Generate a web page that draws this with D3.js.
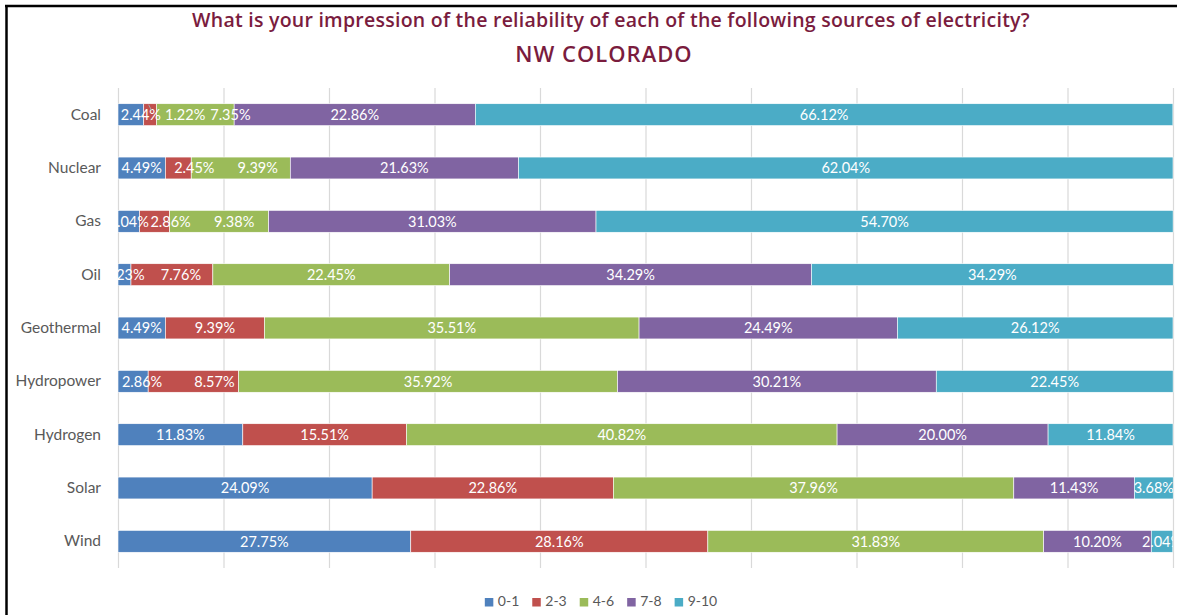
<!DOCTYPE html>
<html>
<head>
<meta charset="utf-8">
<script src="https://cdn.jsdelivr.net/npm/d3@7"></script>
<style>
  html, body { margin: 0; padding: 0; background: #fff; }
  svg { display: block; }
</style>
</head>
<body>
<svg></svg>
<script>
// Chart data
const categories = ["Coal", "Nuclear", "Gas", "Oil", "Geothermal", "Hydropower", "Hydrogen", "Solar", "Wind"];
const seriesNames = ["0-1", "2-3", "4-6", "7-8", "9-10"];
const r01  = [2.44, 4.49, 2.04, 1.23, 4.49, 2.86, 11.83, 24.09, 27.75];
const r23  = [1.22, 2.45, 2.86, 7.76, 9.39, 8.57, 15.51, 22.86, 28.16];
const r46  = [7.35, 9.39, 9.38, 22.45, 35.51, 35.92, 40.82, 37.96, 31.83];
const r78  = [22.86, 21.63, 31.03, 34.29, 24.49, 30.21, 20.00, 11.43, 10.20];
const r910 = [66.12, 62.04, 54.70, 34.29, 26.12, 22.45, 11.84, 3.68, 2.04];
const xTicks = [0, 10, 20, 30, 40, 50, 60, 70, 80, 90, 100];

const colors = ["#4F81BD", "#C0504D", "#9BBB59", "#8064A2", "#4BACC6"];

// a few labels were dragged sideways by hand in the original (pixels)
const labelNudge = {
  "Coal|0-1": 10, "Coal|2-3": 35, "Coal|4-6": 35,
  "Nuclear|2-3": 16, "Nuclear|4-6": 17,
  "Gas|2-3": 16, "Gas|4-6": 15,
  "Oil|2-3": 9,
  "Hydropower|0-1": 9, "Hydropower|2-3": 21
};

const width = 1177, height = 615;
const svg = d3.select("svg").attr("width", width).attr("height", height);

const plot = { left: 118, right: 1173, top: 88, bottom: 568 };

// build rows for the stack
const columns = [r01, r23, r46, r78, r910];
const rows = categories.map((c, i) => {
  const row = { category: c };
  seriesNames.forEach((s, j) => row[s] = columns[j][i]);
  return row;
});
const stacked = d3.stack().keys(seriesNames)(rows);

const x = d3.scaleLinear().domain([0, 100]).range([plot.left, plot.right]);
const y = d3.scaleBand().domain(categories)
  .range([plot.top, plot.bottom])
  .paddingInner(0.59).paddingOuter(0.295);
const color = d3.scaleOrdinal().domain(seriesNames).range(colors);

// frame lines (top and left)
svg.append("line").attr("x1", 5).attr("x2", width).attr("y1", 6).attr("y2", 6)
  .attr("stroke", "#000").attr("stroke-width", 2.5);
svg.append("line").attr("x1", 6.5).attr("x2", 6.5).attr("y1", 5).attr("y2", height)
  .attr("stroke", "#000").attr("stroke-width", 2.5);

// titles
const titleColor = "#7A1C3E";
svg.append("text").attr("x", 611).attr("y", 27).attr("text-anchor", "middle")
  .attr("font-family", "'Open Sans', Lato, sans-serif").attr("font-weight", 600)
  .attr("font-size", 19.5).attr("letter-spacing", 0.25).attr("fill", titleColor)
  .text("What is your impression of the reliability of each of the following sources of electricity?");
svg.append("text").attr("x", 604).attr("y", 62).attr("text-anchor", "middle")
  .attr("font-family", "'Open Sans', Lato, sans-serif").attr("font-weight", 600)
  .attr("font-size", 22).attr("letter-spacing", 1).attr("fill", titleColor)
  .text("NW COLORADO");

// gridlines
const grid = svg.append("g").attr("transform", `translate(0,${plot.bottom})`)
  .call(d3.axisBottom(x).tickValues(xTicks).tickSize(-(plot.bottom - plot.top)).tickFormat(""));
grid.select(".domain").remove();
grid.selectAll(".tick line").attr("stroke", "#d9d9d9").attr("stroke-width", 1.2);

// category labels
const yAxis = svg.append("g").attr("transform", `translate(${plot.left},0)`)
  .call(d3.axisLeft(y).tickSize(0).tickPadding(17));
yAxis.select(".domain").remove();
yAxis.selectAll("text")
  .attr("font-family", "Lato, 'Open Sans', sans-serif")
  .attr("font-size", 15.5).attr("fill", "#595959");

// bars
const layers = svg.append("g").selectAll("g").data(stacked).join("g")
  .attr("fill", d => color(d.key));
layers.selectAll("rect").data(d => d).join("rect")
  .attr("x", d => x(d[0]))
  .attr("y", d => y(d.data.category))
  .attr("width", d => x(d[1]) - x(d[0]))
  .attr("height", y.bandwidth())
  .attr("stroke", "#fff").attr("stroke-width", 0.6);

// clip labels to the plot area
svg.append("clipPath").attr("id", "plotClip").append("rect")
  .attr("x", plot.left).attr("y", plot.top)
  .attr("width", plot.right - plot.left).attr("height", plot.bottom - plot.top);

const labels = svg.append("g").attr("clip-path", "url(#plotClip)");
stacked.forEach(layer => {
  labels.selectAll(null).data(layer).join("text")
    .attr("x", d => (x(d[0]) + x(d[1])) / 2 + (labelNudge[d.data.category + "|" + layer.key] || 0))
    .attr("y", d => y(d.data.category) + y.bandwidth() / 2)
    .attr("dy", "0.36em")
    .attr("text-anchor", "middle")
    .attr("font-family", "Lato, 'Open Sans', sans-serif")
    .attr("font-size", 14.5).attr("fill", "#fff")
    .text(d => (d[1] - d[0]).toFixed(2) + "%");
});

// small leader line for the coal 2-3 label
const coal = stacked[1][0];
const cx = (x(coal[0]) + x(coal[1])) / 2;
svg.append("line")
  .attr("x1", cx - 1.5).attr("y1", y("Coal") + 1)
  .attr("x2", cx + 1.5).attr("y2", y("Coal") + 7)
  .attr("stroke", "#a6a6a6").attr("stroke-width", 1);

// legend
const legend = svg.append("g");
let lx = 0;
seriesNames.forEach(s => {
  const item = legend.append("g").attr("transform", `translate(${lx},0)`);
  item.append("rect").attr("x", 0).attr("y", -8).attr("width", 8.5).attr("height", 8.5)
    .attr("fill", color(s));
  const t = item.append("text").attr("x", 13).attr("y", 0)
    .attr("font-family", "Lato, 'Open Sans', sans-serif")
    .attr("font-size", 14).attr("fill", "#595959").text(s);
  lx += 13 + t.node().getComputedTextLength() + 13;
});
const legendWidth = lx - 13;
legend.attr("transform", `translate(${601 - legendWidth / 2},606)`);
</script>
</body>
</html>
